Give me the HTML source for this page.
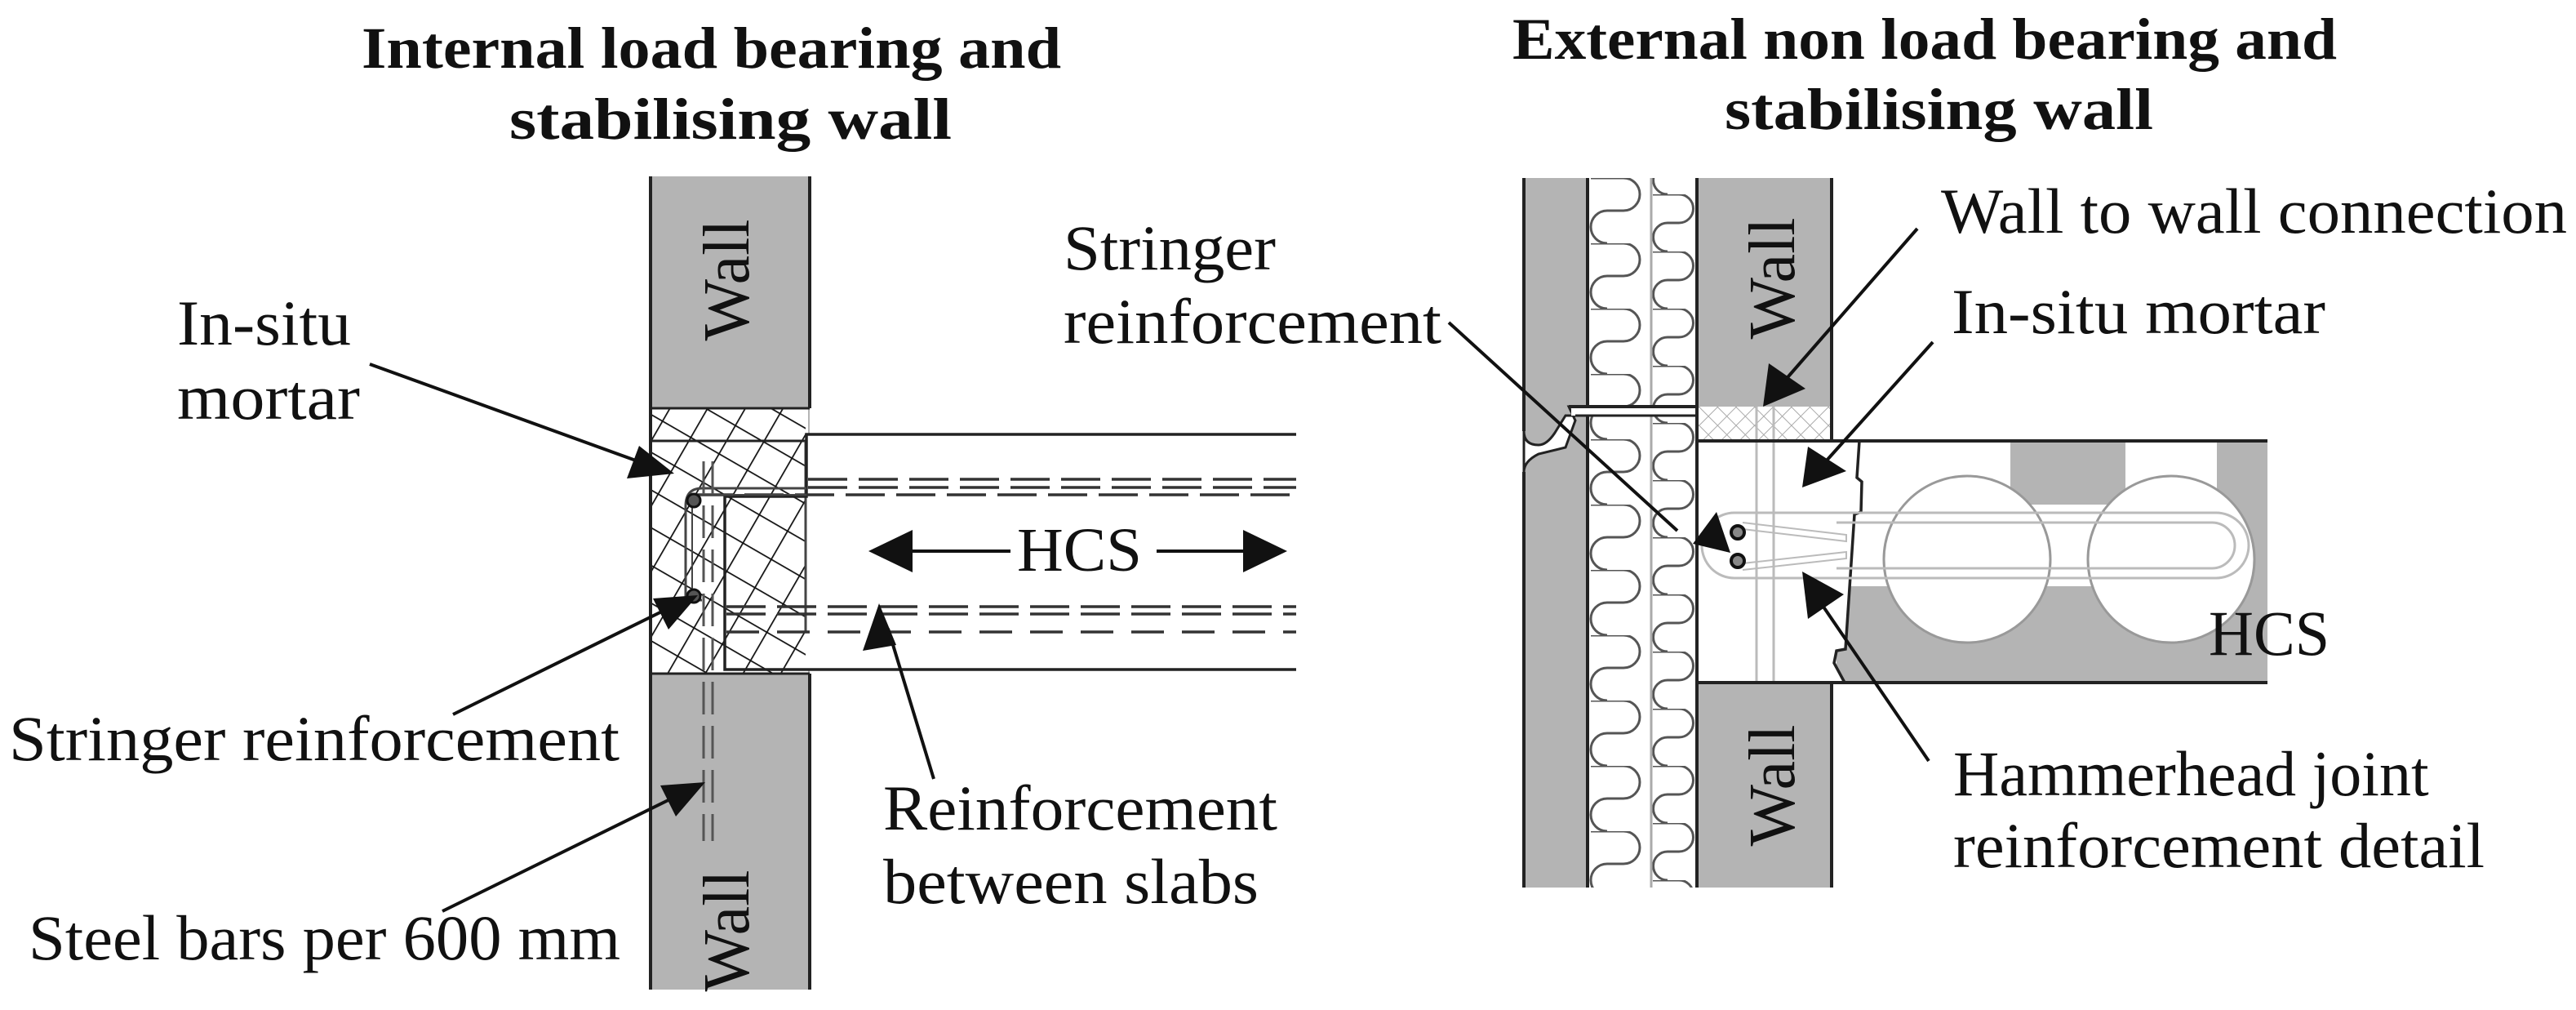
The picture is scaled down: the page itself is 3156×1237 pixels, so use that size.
<!DOCTYPE html>
<html><head><meta charset="utf-8"><style>
html,body{margin:0;padding:0;background:#fff;}
svg{display:block;}
text{font-family:"Liberation Serif",serif;fill:#111;}
</style></head><body>
<svg width="3156" height="1237" viewBox="0 0 3156 1237" xmlns="http://www.w3.org/2000/svg">
<defs>
<pattern id="hatch" patternUnits="userSpaceOnUse" width="40" height="40" patternTransform="rotate(30)">
<line x1="0" y1="0" x2="40" y2="0" stroke="#111" stroke-width="3.5"/>
</pattern>
<pattern id="hatch2" patternUnits="userSpaceOnUse" width="40" height="40" patternTransform="rotate(-60)">
<line x1="0" y1="0" x2="40" y2="0" stroke="#111" stroke-width="3.5"/>
</pattern>
<pattern id="lhatch" patternUnits="userSpaceOnUse" width="16" height="16" patternTransform="rotate(45)">
<line x1="0" y1="0" x2="16" y2="0" stroke="#aaa" stroke-width="2"/>
<line x1="0" y1="0" x2="0" y2="16" stroke="#aaa" stroke-width="2"/>
</pattern>
<pattern id="insA" patternUnits="userSpaceOnUse" x="1945" y="218" width="78" height="80">
<path d="M4,0 H44 A20,20 0 0 1 44,40 H24 A20,20 0 0 0 24,80" fill="none" stroke="#555" stroke-width="3"/>
</pattern>
<pattern id="insB" patternUnits="userSpaceOnUse" x="2023" y="238" width="56" height="70">
<path d="M2,0 H34 A17.5,17.5 0 0 1 34,35 H20 A17.5,17.5 0 0 0 20,70" fill="none" stroke="#555" stroke-width="3"/>
</pattern>
</defs>

<!-- ===== LEFT PANEL ===== -->
<text x="443" y="83" font-size="72" font-weight="bold" textLength="857" lengthAdjust="spacingAndGlyphs">Internal load bearing and</text>
<text x="624" y="170" font-size="72" font-weight="bold" textLength="542" lengthAdjust="spacingAndGlyphs">stabilising wall</text>

<rect x="797" y="216" width="195" height="996" fill="#b4b4b4"/>
<rect x="797" y="500" width="193" height="325" fill="#fff"/>
<rect x="797" y="500" width="190" height="325" fill="url(#hatch)"/>
<rect x="797" y="500" width="190" height="325" fill="url(#hatch2)"/>
<line x1="797" y1="216" x2="797" y2="1212" stroke="#222" stroke-width="4"/>
<line x1="992" y1="216" x2="992" y2="500" stroke="#222" stroke-width="4"/>
<line x1="992" y1="825" x2="992" y2="1212" stroke="#222" stroke-width="4"/>
<line x1="797" y1="500" x2="992" y2="500" stroke="#222" stroke-width="3"/>
<line x1="797" y1="540" x2="988" y2="540" stroke="#222" stroke-width="3"/>
<line x1="797" y1="825" x2="992" y2="825" stroke="#222" stroke-width="3"/>
<line x1="987" y1="540" x2="987" y2="775" stroke="#444" stroke-width="3"/>
<rect x="990" y="532" width="598" height="288" fill="#fff"/>
<path d="M1588,532 H988 V608 H888 V820 H1588" fill="none" stroke="#222" stroke-width="3.5"/>
<g stroke="#333" stroke-width="3.5" fill="none">
<line x1="990" y1="587" x2="1588" y2="587" stroke-dasharray="48,14"/>
<line x1="990" y1="597" x2="1588" y2="597" stroke-dasharray="48,14"/>
<line x1="850" y1="606" x2="1588" y2="606" stroke-dasharray="48,14"/>
<line x1="890" y1="743" x2="1588" y2="743" stroke-dasharray="48,14"/>
<line x1="890" y1="752" x2="1588" y2="752" stroke-dasharray="48,14"/>
<line x1="890" y1="774" x2="1588" y2="774" stroke-dasharray="40,22"/>
</g>
<path d="M988,598 H860 Q840,598 840,620 V735 H860" fill="none" stroke="#444" stroke-width="3"/>
<path d="M988,606 H862 Q848,606 848,622 V727" fill="none" stroke="#444" stroke-width="2"/>
<circle cx="850" cy="613" r="8" fill="#555" stroke="#111" stroke-width="3"/>
<circle cx="850" cy="730" r="8" fill="#555" stroke="#111" stroke-width="3"/>
<g stroke="#555" stroke-width="3" stroke-dasharray="40,14">
<line x1="862" y1="565" x2="862" y2="1030"/>
<line x1="873" y1="565" x2="873" y2="1030"/>
</g>
<text transform="translate(917,343) rotate(-90)" font-size="80" text-anchor="middle">Wall</text>
<text transform="translate(917,1140) rotate(-90)" font-size="80" text-anchor="middle">Wall</text>
<text x="1246" y="699" font-size="76" textLength="153" lengthAdjust="spacingAndGlyphs">HCS</text>
<line x1="1110" y1="675" x2="1238" y2="675" stroke="#111" stroke-width="4"/>
<polygon points="1064,675 1118,649 1118,701" fill="#111"/>
<line x1="1417" y1="675" x2="1530" y2="675" stroke="#111" stroke-width="4"/>
<polygon points="1577,675 1523,649 1523,701" fill="#111"/>

<g font-size="78">
<text x="217" y="422" textLength="213" lengthAdjust="spacingAndGlyphs">In-situ</text>
<text x="217" y="513" textLength="224" lengthAdjust="spacingAndGlyphs">mortar</text>
<text x="11" y="931" textLength="748" lengthAdjust="spacingAndGlyphs">Stringer reinforcement</text>
<text x="35" y="1175" textLength="725" lengthAdjust="spacingAndGlyphs">Steel bars per 600 mm</text>
<text x="1082" y="1016" textLength="483" lengthAdjust="spacingAndGlyphs">Reinforcement</text>
<text x="1082" y="1106" textLength="460" lengthAdjust="spacingAndGlyphs">between slabs</text>
<text x="1303" y="330" textLength="260" lengthAdjust="spacingAndGlyphs">Stringer</text>
<text x="1303" y="420" textLength="463" lengthAdjust="spacingAndGlyphs">reinforcement</text>
</g>

<g stroke="#111" stroke-width="4">
<line x1="453" y1="446" x2="790" y2="568"/>
<line x1="555" y1="875" x2="825" y2="742"/>
<line x1="542" y1="1116" x2="835" y2="972"/>
<line x1="1144" y1="954" x2="1088" y2="770"/>
</g>
<polygon points="826,580 768,586 783,546" fill="#111"/>
<polygon points="855,729 819,771 800,733" fill="#111"/>
<polygon points="864,958 828,1000 809,962" fill="#111"/>
<polygon points="1077,739 1098,790 1057,797" fill="#111"/>

<!-- ===== RIGHT PANEL ===== -->
<text x="1853" y="72" font-size="72" font-weight="bold" textLength="1010" lengthAdjust="spacingAndGlyphs">External non load bearing and</text>
<text x="2113" y="158" font-size="72" font-weight="bold" textLength="525" lengthAdjust="spacingAndGlyphs">stabilising wall</text>

<rect x="1867" y="218" width="78" height="869" fill="#b4b4b4"/>
<path d="M1867,528 Q1867,545 1885,545 Q1895,545 1905,530 L1918,509 L1945,509 L1945,498 L1922,498 L1930,515 L1918,548 L1885,556 Q1867,565 1867,578 Z" fill="#fff" stroke="#222" stroke-width="3"/>
<line x1="1867" y1="218" x2="1867" y2="528" stroke="#222" stroke-width="4"/>
<line x1="1867" y1="578" x2="1867" y2="1087" stroke="#222" stroke-width="4"/>
<line x1="1945" y1="218" x2="1945" y2="1087" stroke="#222" stroke-width="4"/>
<rect x="1947" y="218" width="76" height="869" fill="url(#insA)"/>
<rect x="2024" y="218" width="55" height="869" fill="url(#insB)"/>
<line x1="2023" y1="218" x2="2023" y2="1087" stroke="#aaa" stroke-width="3"/>
<rect x="1925" y="498" width="154" height="11" fill="#fff"/>
<line x1="1922" y1="498" x2="2244" y2="498" stroke="#222" stroke-width="4"/>
<line x1="1930" y1="509" x2="2079" y2="509" stroke="#222" stroke-width="3"/>
<rect x="2079" y="218" width="165" height="280" fill="#b4b4b4"/>
<rect x="2079" y="836" width="165" height="251" fill="#b4b4b4"/>
<rect x="2079" y="498" width="165" height="42" fill="#fff"/>
<rect x="2079" y="498" width="165" height="42" fill="url(#lhatch)"/>
<line x1="2244" y1="218" x2="2244" y2="540" stroke="#222" stroke-width="4"/>
<line x1="2244" y1="836" x2="2244" y2="1087" stroke="#222" stroke-width="4"/>
<line x1="2079" y1="218" x2="2079" y2="1087" stroke="#222" stroke-width="4"/>
<rect x="2250" y="540" width="528" height="296" fill="#b4b4b4"/>
<rect x="2250" y="540" width="213" height="78" fill="#fff"/>
<rect x="2604" y="540" width="112" height="78" fill="#fff"/>
<rect x="2250" y="618" width="466" height="100" fill="#fff"/>
<circle cx="2410" cy="685" r="102" fill="#fff" stroke="#999" stroke-width="3"/>
<circle cx="2660" cy="685" r="102" fill="#fff" stroke="#999" stroke-width="3"/>
<polygon points="2081,540 2278,540 2275,585 2281,590 2280,627 2272,630 2261,795 2250,797 2247,812 2260,836 2081,836" fill="#fff"/>
<polyline points="2278,540 2275,585 2281,590 2280,627 2272,630 2261,795 2250,797 2247,812 2260,836" fill="none" stroke="#222" stroke-width="3.5"/>
<line x1="2152" y1="498" x2="2152" y2="836" stroke="#bbb" stroke-width="3"/>
<line x1="2173" y1="498" x2="2173" y2="836" stroke="#bbb" stroke-width="3"/>
<path d="M2125,628 H2715 A40,40 0 0 1 2715,708 H2125 A40,40 0 0 1 2125,628 Z" fill="none" stroke="#bbb" stroke-width="3"/>
<path d="M2250,640 H2710 A28,28 0 0 1 2710,696 H2250" fill="none" stroke="#bbb" stroke-width="3"/>
<path d="M2135,640 L2262,655 L2262,663 L2135,648 M2135,690 L2262,676 L2262,684 L2135,698" fill="none" stroke="#bbb" stroke-width="2"/>
<line x1="2079" y1="540" x2="2778" y2="540" stroke="#222" stroke-width="4"/>
<line x1="2079" y1="836" x2="2778" y2="836" stroke="#222" stroke-width="4"/>
<circle cx="2129" cy="652" r="8" fill="#888" stroke="#111" stroke-width="4"/>
<circle cx="2129" cy="687" r="8" fill="#888" stroke="#111" stroke-width="4"/>
<text x="2706" y="802" font-size="78" textLength="148" lengthAdjust="spacingAndGlyphs">HCS</text>

<text transform="translate(2198,341) rotate(-90)" font-size="80" text-anchor="middle">Wall</text>
<text transform="translate(2198,962) rotate(-90)" font-size="80" text-anchor="middle">Wall</text>

<g font-size="78">
<text x="2378" y="285" textLength="767" lengthAdjust="spacingAndGlyphs">Wall to wall connection</text>
<text x="2391" y="408" textLength="458" lengthAdjust="spacingAndGlyphs">In-situ mortar</text>
<text x="2393" y="974">Hammerhead joint</text>
<text x="2393" y="1062" textLength="651" lengthAdjust="spacingAndGlyphs">reinforcement detail</text>
</g>

<g stroke="#111" stroke-width="4">
<line x1="1775" y1="395" x2="2055" y2="650"/>
<line x1="2349" y1="280" x2="2178" y2="476"/>
<line x1="2368" y1="419" x2="2228" y2="575"/>
<line x1="2363" y1="932" x2="2225" y2="730"/>
</g>
<polygon points="2074,666 2103,627 2120,677" fill="#111"/>
<polygon points="2160,498 2167,445 2212,476" fill="#111"/>
<polygon points="2208,597 2215,547 2262,577" fill="#111"/>
<polygon points="2208,700 2259,728 2215,758" fill="#111"/>
</svg>
</body></html>
